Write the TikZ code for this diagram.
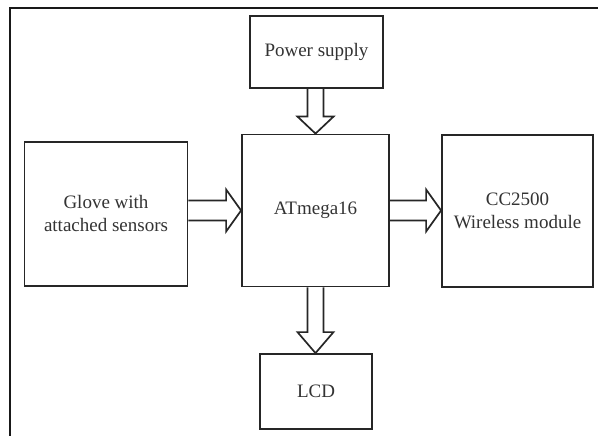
\documentclass[tikz,border=0pt]{standalone}
\usepackage{fontspec}
\setmainfont{Liberation Serif}
\usetikzlibrary{calc}
\begin{document}
\begin{tikzpicture}[x=1pt,y=-1pt,
  box/.style={draw=black!85, line width=1.8pt, align=center, text=black!80,
    font=\fontsize{19}{23}\selectfont, inner sep=0pt},
  barrow/.style={draw=black!85, line width=1.7pt, line join=miter}]
\useasboundingbox (0,0) rectangle (598,436);
\fill[white] (0,0) rectangle (598,436);
\draw[line width=1.6pt, black!90] (10,436) -- (10,8) -- (598,8);

\node[box, minimum width=133pt, minimum height=72pt] (ps) at (316.5,52) {Power supply};
\node[box, minimum width=147pt, minimum height=152pt] (at) at (315.5,210.5) {ATmega16};
\node[box, minimum width=163pt, minimum height=144pt] (gl) at (106,214) {Glove with\\attached sensors};
\node[box, minimum width=151pt, minimum height=152pt] (cc) at (517.5,211) {CC2500\\Wireless module};
\node[box, minimum width=112pt, minimum height=75pt] (lcd) at (316,391.5) {LCD};

% Glove -> ATmega
\draw[barrow] let \p1=(gl.east), \p2=(at.west) in
  (\x1,\y2+10pt) -- (\x2-15pt,\y2+10pt) -- (\x2-15pt,\y2+21pt) -- (\x2,\y2)
  -- (\x2-15pt,\y2-21pt) -- (\x2-15pt,\y2-10pt) -- (\x1,\y2-10pt);
% ATmega -> CC2500
\draw[barrow] let \p1=(at.east), \p2=(cc.west) in
  (\x1,\y1+10pt) -- (\x2-15pt,\y1+10pt) -- (\x2-15pt,\y1+21pt) -- (\x2,\y1)
  -- (\x2-15pt,\y1-21pt) -- (\x2-15pt,\y1-10pt) -- (\x1,\y1-10pt);
% Power -> ATmega
\draw[barrow] let \p1=(ps.south), \p2=(at.north) in
  (\x2-8pt,\y1) -- (\x2-8pt,\y2+17pt) -- (\x2-18pt,\y2+17pt) -- (\x2,\y2)
  -- (\x2+18pt,\y2+17pt) -- (\x2+8pt,\y2+17pt) -- (\x2+8pt,\y1);
% ATmega -> LCD
\draw[barrow] let \p1=(at.south), \p2=(lcd.north) in
  (\x1-8pt,\y1) -- (\x1-8pt,\y2+21pt) -- (\x1-18pt,\y2+21pt) -- (\x1,\y2)
  -- (\x1+18pt,\y2+21pt) -- (\x1+8pt,\y2+21pt) -- (\x1+8pt,\y1);
\end{tikzpicture}
\end{document}
